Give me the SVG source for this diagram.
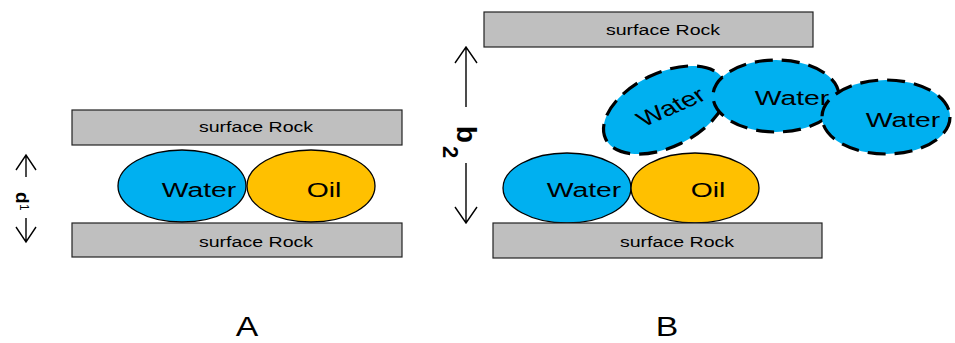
<svg xmlns="http://www.w3.org/2000/svg" width="955" height="343" viewBox="0 0 955 343">
<style>
.rock{fill:#bfbfbf;stroke:#222;stroke-width:1.2}
.water{fill:#00b0f0;stroke:#000;stroke-width:1.3}
.oil{fill:#ffc000;stroke:#000;stroke-width:1.3}
.dwater{fill:#00b0f0;stroke:#000;stroke-width:3.2;stroke-dasharray:18 9}
.t{font-family:"Liberation Sans",Arial,sans-serif;fill:#000;text-anchor:middle}
.rt{font-size:14.5px}
.bt{font-size:21px}
.lab{font-size:27px}
.ar{fill:none;stroke:#000;stroke-width:1.4}
.dl{font-family:"Liberation Sans",Arial,sans-serif;font-weight:bold;fill:#000}
</style>
<rect width="955" height="343" fill="#fff"/>

<!-- Panel A -->
<g id="rockA-top">
<rect class="rock" x="72" y="110" width="330" height="35"/>
<text class="t rt" transform="translate(256,132) scale(1.35,1)">surface Rock</text>
</g>
<g id="waterA">
<ellipse class="water" cx="182" cy="186" rx="64" ry="36"/>
<text class="t bt" transform="translate(199,197) scale(1.35,1)">Water</text>
</g>
<g id="oilA">
<ellipse class="oil" cx="311" cy="186" rx="64" ry="36"/>
<text class="t bt" transform="translate(324,197) scale(1.35,1)">Oil</text>
</g>
<g id="rockA-bottom">
<rect class="rock" x="72" y="223" width="330" height="34"/>
<text class="t rt" transform="translate(256,247) scale(1.35,1)">surface Rock</text>
</g>

<!-- Panel B -->
<g id="rockB-top">
<rect class="rock" x="484" y="12" width="329" height="35"/>
<text class="t rt" transform="translate(663,35) scale(1.35,1)">surface Rock</text>
</g>
<g id="waterB">
<ellipse class="water" cx="567" cy="188" rx="64" ry="35"/>
<text class="t bt" transform="translate(584,197) scale(1.35,1)">Water</text>
</g>
<g id="oilB">
<ellipse class="oil" cx="695" cy="188" rx="64" ry="35"/>
<text class="t bt" transform="translate(708,197) scale(1.35,1)">Oil</text>
</g>
<g id="rockB-bottom">
<rect class="rock" x="493" y="223" width="329" height="35"/>
<text class="t rt" transform="translate(677,247) scale(1.35,1)">surface Rock</text>
</g>
<g id="waterB-tilted">
<ellipse class="dwater" cx="665" cy="110" rx="66" ry="37" transform="rotate(-26 665 110)"/>
<text class="t bt" transform="translate(676,113) scale(1.35,1) rotate(-31)">Water</text>
</g>
<g id="waterB-middle">
<ellipse class="dwater" cx="776" cy="96" rx="63" ry="36"/>
<text class="t bt" transform="translate(792,105) scale(1.35,1)">Water</text>
</g>
<g id="waterB-right">
<ellipse class="dwater" cx="886" cy="117" rx="64" ry="37"/>
<text class="t bt" transform="translate(903,127) scale(1.35,1)">Water</text>
</g>

<!-- Dimension arrows -->
<g id="connectors">
<path class="ar" d="M26,155 V177 M16,170 L26,155 L36,170"/>
<path class="ar" d="M26,218 V242 M16,227 L26,242 L36,227"/>
<path class="ar" d="M466,47 V107 M455,63 L466,47 L477,63"/>
<path class="ar" d="M466,163 V223 M455,207 L466,223 L477,207"/>
</g>
<g id="d1-label">
<text class="dl" style="font-size:19px" transform="translate(16,192) rotate(90)">d</text>
<text class="dl" style="font-size:12px;font-weight:normal" transform="translate(20,204) rotate(90)">1</text>
</g>
<g id="d2-label">
<text class="dl" style="font-size:28px" transform="translate(457,143) rotate(90) scale(-1,1)">d</text>
<text class="dl" style="font-size:22px" transform="translate(443,146) rotate(90)">2</text>
</g>

<g id="labels">
<text class="t lab" transform="translate(247,336) scale(1.25,1)">A</text>
<text class="t lab" transform="translate(667,336) scale(1.25,1)">B</text>
</g>
</svg>
